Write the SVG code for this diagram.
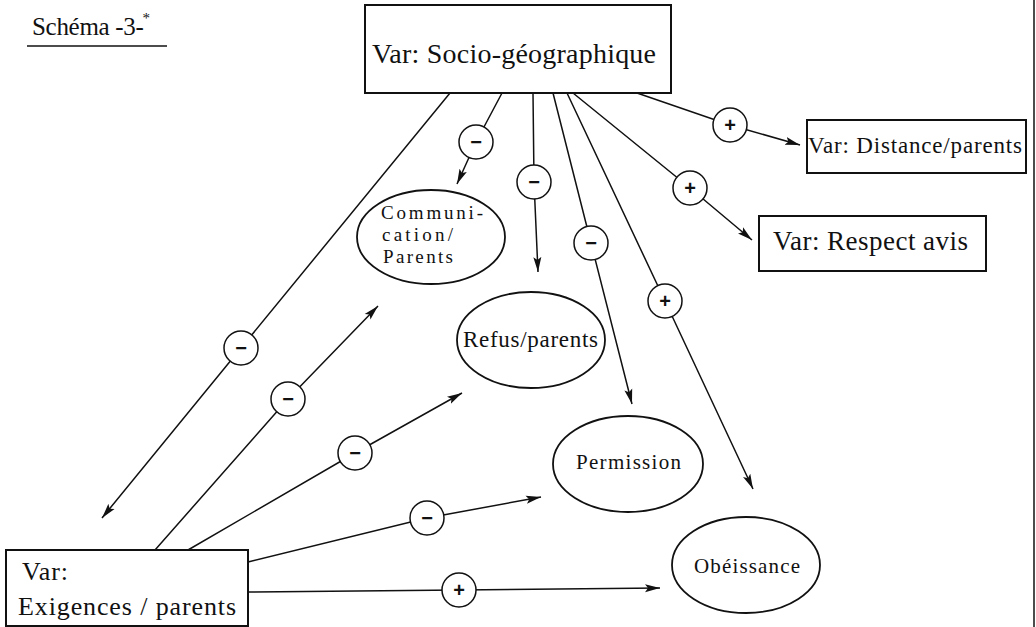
<svg xmlns="http://www.w3.org/2000/svg" width="1036" height="627" viewBox="0 0 1036 627">
<style>
  .t { font-family: "Liberation Serif", "Times New Roman", serif; fill: #111; }
  .box { fill: #fff; stroke: #111; stroke-width: 2; }
  .ell { fill: #fff; stroke: #111; stroke-width: 1.8; }
  .ln { fill: none; stroke: #111; stroke-width: 1.5; marker-end: url(#arr); }
  .sg { fill: #fff; stroke: #111; stroke-width: 1.5; }
  .sym { font-family: "Liberation Sans", Arial, sans-serif; font-weight: bold; font-size: 20px; fill: #111; text-anchor: middle; }
</style>
<defs>
  <marker id="arr" markerUnits="userSpaceOnUse" markerWidth="16" markerHeight="10" viewBox="0 0 16 10" refX="15" refY="5" orient="auto">
    <path d="M0,1 L15,5 L0,9 L3,5 Z" fill="#111"/>
  </marker>
</defs>
<rect width="1036" height="627" fill="#fff"/>
<line x1="1034" y1="0" x2="1034" y2="627" stroke="#111" stroke-width="1.5"/>

<g id="title">
  <text class="t" x="32" y="35" font-size="25" textLength="118" lengthAdjust="spacing">Schéma -3-<tspan dx="-1" dy="-12" font-size="15">*</tspan></text>
  <line x1="27" y1="46" x2="167" y2="46" stroke="#111" stroke-width="1.5"/>
</g>

<g id="connectors">
  <polyline class="ln" points="450,93 241,348 102,518"/>
  <polyline class="ln" points="502,93 476,142 457,184"/>
  <polyline class="ln" points="533,93 534,182 538,272"/>
  <polyline class="ln" points="553,93 591,243 632,404"/>
  <polyline class="ln" points="567,93 665,301 753,489"/>
  <polyline class="ln" points="573,93 690,188 752,240"/>
  <polyline class="ln" points="637,93 730,125 800,145"/>
  <polyline class="ln" points="155,550 288,399 378,306"/>
  <polyline class="ln" points="188,550 355,453 462,393"/>
  <polyline class="ln" points="248,562 427,518 541,497"/>
  <polyline class="ln" points="248,592 459,590 660,588"/>
  <g id="signs">
    <circle class="sg" cx="241" cy="348" r="17"/><text class="sym" x="241" y="355">−</text>
    <circle class="sg" cx="476" cy="142" r="17"/><text class="sym" x="476" y="149">−</text>
    <circle class="sg" cx="534" cy="182" r="17"/><text class="sym" x="534" y="189">−</text>
    <circle class="sg" cx="591" cy="243" r="17"/><text class="sym" x="591" y="250">−</text>
    <circle class="sg" cx="665" cy="301" r="17"/><text class="sym" x="665" y="308">+</text>
    <circle class="sg" cx="690" cy="188" r="17"/><text class="sym" x="690" y="195">+</text>
    <circle class="sg" cx="730" cy="125" r="17"/><text class="sym" x="730" y="132">+</text>
    <circle class="sg" cx="288" cy="399" r="17"/><text class="sym" x="288" y="406">−</text>
    <circle class="sg" cx="355" cy="453" r="17"/><text class="sym" x="355" y="460">−</text>
    <circle class="sg" cx="427" cy="518" r="17"/><text class="sym" x="427" y="525">−</text>
    <circle class="sg" cx="459" cy="590" r="17"/><text class="sym" x="459" y="597">+</text>
  </g>
</g>

<g id="socio">
  <rect class="box" x="365" y="5" width="306" height="88"/>
  <text class="t" x="372" y="63" font-size="28" textLength="284" lengthAdjust="spacing">Var: Socio-géographique</text>
</g>

<g id="distance">
  <rect class="box" x="807" y="120" width="219" height="53"/>
  <text class="t" x="808" y="153" font-size="23" textLength="214" lengthAdjust="spacing">Var: Distance/parents</text>
</g>

<g id="respect">
  <rect class="box" x="759" y="216" width="227" height="55"/>
  <text class="t" x="773" y="250" font-size="27" textLength="195" lengthAdjust="spacing">Var: Respect avis</text>
</g>

<g id="exigences">
  <rect class="box" x="6" y="550" width="242" height="76"/>
  <text class="t" x="22" y="580" font-size="26" textLength="46" lengthAdjust="spacing">Var:</text>
  <text class="t" x="18" y="615" font-size="26" textLength="218" lengthAdjust="spacing">Exigences / parents</text>
</g>

<g id="communication">
  <ellipse class="ell" cx="431" cy="237" rx="74" ry="47"/>
  <text class="t" x="381" y="219" font-size="19" textLength="102" lengthAdjust="spacing">Communi-</text>
  <text class="t" x="382" y="241" font-size="19" textLength="71" lengthAdjust="spacing">cation/</text>
  <text class="t" x="383" y="263" font-size="19" textLength="70" lengthAdjust="spacing">Parents</text>
</g>

<g id="refus">
  <ellipse class="ell" cx="531" cy="340" rx="74" ry="48"/>
  <text class="t" x="463" y="347" font-size="23" textLength="135" lengthAdjust="spacing">Refus/parents</text>
</g>

<g id="permission">
  <ellipse class="ell" cx="628" cy="464" rx="75" ry="48"/>
  <text class="t" x="576" y="469" font-size="21" textLength="105" lengthAdjust="spacing">Permission</text>
</g>

<g id="obeissance">
  <ellipse class="ell" cx="746" cy="565" rx="74" ry="48"/>
  <text class="t" x="694" y="573" font-size="21" textLength="106" lengthAdjust="spacing">Obéissance</text>
</g>
</svg>
